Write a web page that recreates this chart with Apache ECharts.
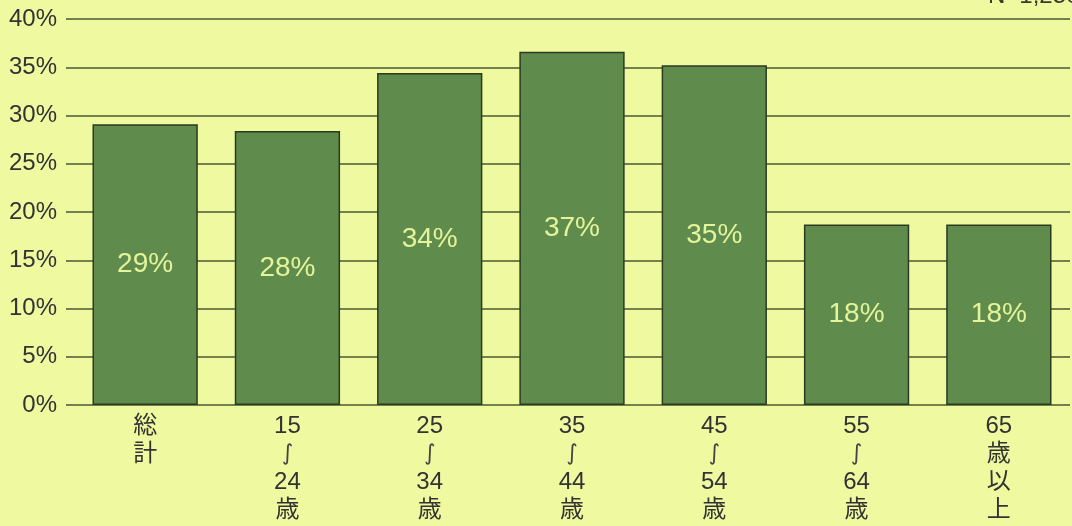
<!DOCTYPE html>
<html><head><meta charset="utf-8">
<script src="https://cdn.jsdelivr.net/npm/echarts@6/dist/echarts.min.js"></script>
<style>html,body{margin:0;padding:0;background:#eef9a0;}#c{width:1072px;height:526px;}</style>
</head><body><div id="c"></div>
<script>
const categories = ['総\n計', '15\n≀\n24\n歳', '25\n≀\n34\n歳', '35\n≀\n44\n歳', '45\n≀\n54\n歳', '55\n≀\n64\n歳', '65\n歳\n以\n上'];
const values = [29.1, 28.4, 34.4, 36.6, 35.2, 18.7, 18.7];
const valueLabels = ['29%', '28%', '34%', '37%', '35%', '18%', '18%'];
const yTicks = [0, 5, 10, 15, 20, 25, 30, 35, 40];
const note = 'N=1,250';

const FONT = '"Liberation Sans", "Noto Sans CJK JP", sans-serif';
const chart = echarts.init(document.getElementById('c'));
chart.setOption({
  backgroundColor: '#eef9a0',
  animation: false,
  grid: { left: 74, right: 2, top: 19, bottom: 121 },
  graphic: [{
    type: 'text', left: 988, top: -16,
    style: { text: note, font: '24px ' + FONT, fill: '#3a3a2a' }
  }],
  xAxis: {
    type: 'category', data: categories,
    axisLine: { show: false }, axisTick: { show: false },
    axisLabel: {
      color: '#333', fontSize: 24, lineHeight: 28, fontFamily: FONT, margin: 7, interval: 0,
      formatter: v => v.split('\n').map(s => s === '≀' ? '{w|∫}' : s).join('\n'),
      rich: { w: { fontSize: 22, lineHeight: 28, fontFamily: '"DejaVu Sans"', color: '#444' } }
    }
  },
  yAxis: {
    type: 'value', min: 0, max: 40, interval: 5,
    axisLine: { show: false },
    axisTick: { show: true, length: 8, lineStyle: { color: '#4a5a32', width: 1.5 } },
    splitLine: { lineStyle: { color: '#4a5a32', width: 1.5 } },
    axisLabel: { color: '#333', fontSize: 24, fontFamily: FONT, margin: 17,
      formatter: v => yTicks.includes(v) ? v + '%' : '' }
  },
  series: [{
    type: 'bar', data: values, barWidth: '74%',
    itemStyle: { color: '#5f8b4d', borderColor: '#2c3a20', borderWidth: 1.5 },
    label: { show: true, position: 'inside', color: '#e4f49a', fontSize: 28, fontFamily: FONT,
      formatter: p => valueLabels[p.dataIndex] }
  }]
});
</script></body></html>
